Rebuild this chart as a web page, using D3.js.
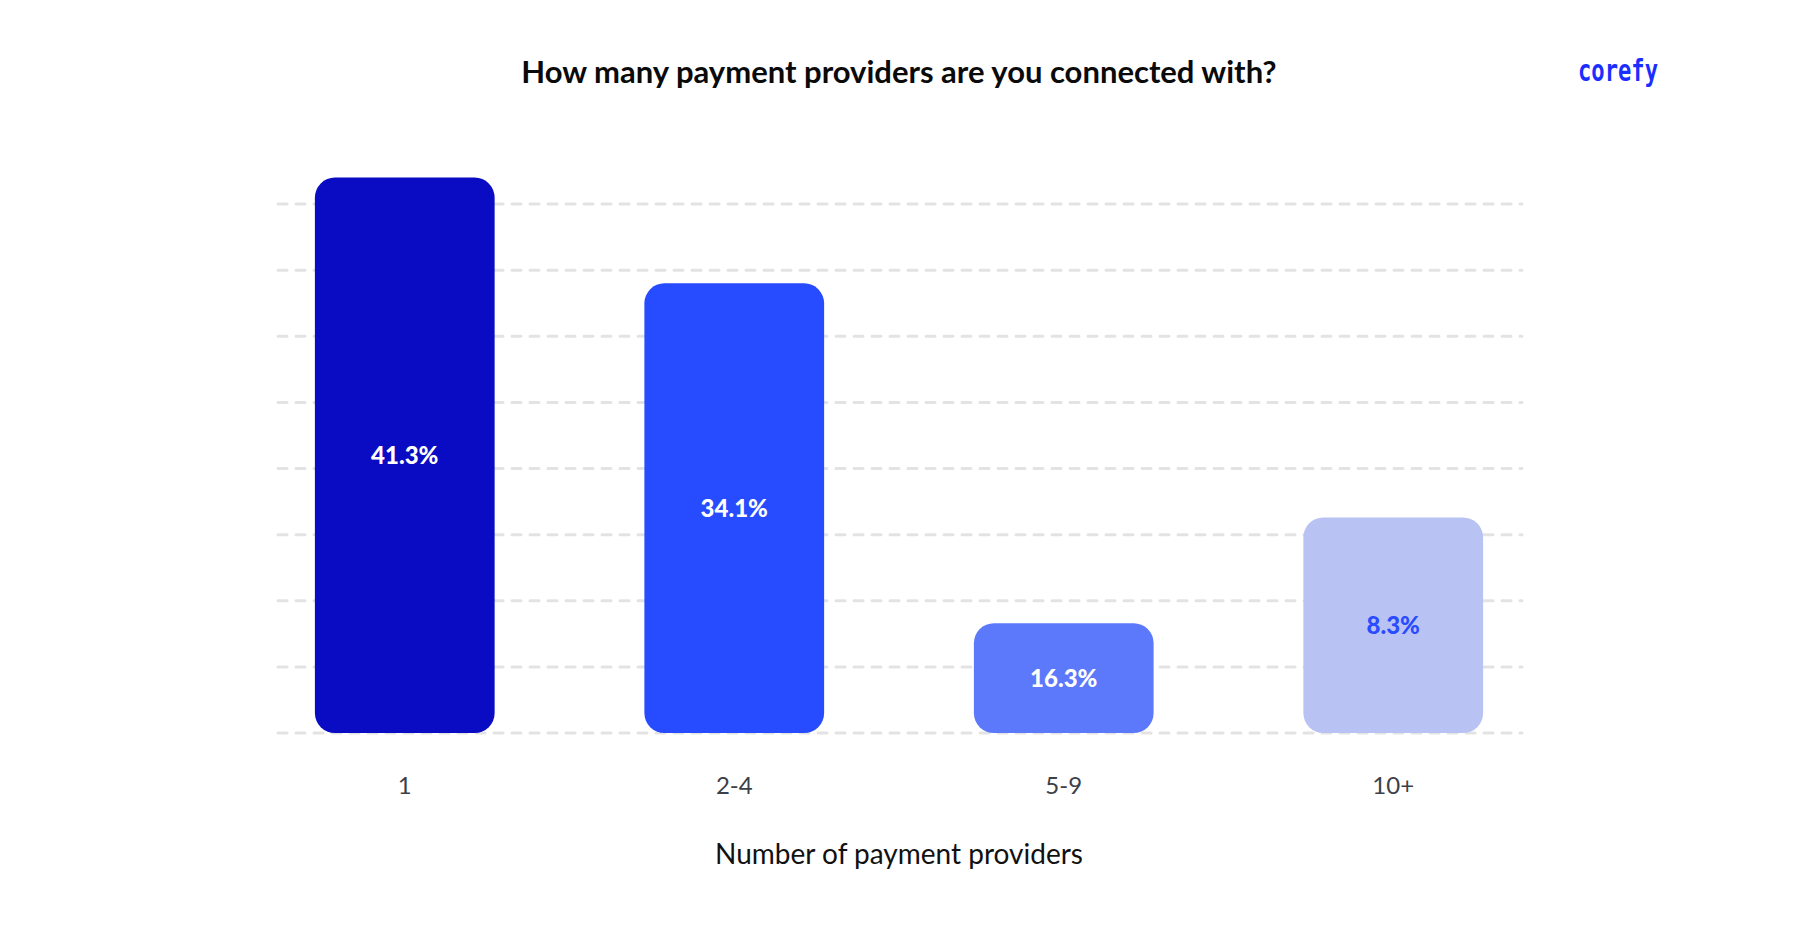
<!DOCTYPE html>
<html>
<head>
<meta charset="utf-8">
<script src="https://cdn.jsdelivr.net/npm/d3@7"></script>
<style>
  html, body { margin: 0; padding: 0; background: #ffffff; }
  svg { display: block; }
</style>
</head>
<body>
<svg id="chart" width="1800" height="942"></svg>
<script>
// ---- data ----
const categories = ["1", "2-4", "5-9", "10+"];
// bar heights as drawn in the picture (in %)
const barHeights = [42.0, 34.0, 8.3, 16.3];
// value labels as printed on the bars
const valueLabels = ["41.3%", "34.1%", "16.3%", "8.3%"];
const gridTicks = [0, 5, 10, 15, 20, 25, 30, 35, 40];
const barColors = ["#0a0cc4", "#274bff", "#5c79fb", "#b8c3f4"];
const labelColors = ["#ffffff", "#ffffff", "#ffffff", "#2a4bff"];
const titleText = "How many payment providers are you connected with?";
const xAxisTitle = "Number of payment providers";

// ---- layout ----
const svg = d3.select("#chart");
const W = 1800, H = 942;
svg.append("rect").attr("width", W).attr("height", H).attr("fill", "#fff");

const gridX0 = 278, gridX1 = 1522;
const y = d3.scaleLinear().domain([0, 40]).range([733, 204]);
const x = d3.scaleBand().domain(categories).range([240, 1558])
  .paddingInner(0.4545).paddingOuter(0.2273);

// gridlines
svg.append("g").selectAll("line").data(gridTicks).join("line")
  .attr("x1", gridX0).attr("x2", gridX1)
  .attr("y1", d => y(d)).attr("y2", d => y(d))
  .attr("stroke", "#e3e3e3").attr("stroke-width", 3)
  .attr("stroke-linecap", "round")
  .attr("stroke-dasharray", "9 9");

// bars
const bars = categories.map((c, i) => ({ c, h: barHeights[i], label: valueLabels[i], color: barColors[i], lc: labelColors[i] }));
svg.append("g").selectAll("rect").data(bars).join("rect")
  .attr("x", d => x(d.c))
  .attr("width", x.bandwidth())
  .attr("y", d => y(d.h))
  .attr("height", d => y(0) - y(d.h))
  .attr("rx", 20).attr("ry", 20)
  .attr("fill", d => d.color);

// value labels
svg.append("g").selectAll("text").data(bars).join("text")
  .attr("x", d => x(d.c) + x.bandwidth() / 2)
  .attr("y", d => (y(d.h) + y(0)) / 2)
  .attr("dy", "0.36em")
  .attr("text-anchor", "middle")
  .attr("font-family", "Lato, sans-serif")
  .attr("font-weight", 900)
  .attr("font-size", 24)
  .attr("fill", d => d.lc)
  .text(d => d.label);

// x axis labels
const xAxis = d3.axisBottom(x).tickSize(0).tickPadding(0);
const gx = svg.append("g").attr("transform", "translate(0,777)").call(xAxis);
gx.select(".domain").remove();
gx.selectAll("text")
  .attr("font-family", "Lato, sans-serif")
  .attr("font-size", 24)
  .attr("fill", "#3c4048")
  .attr("dy", "0.71em")
  .attr("y", 0);

// axis title
svg.append("text")
  .attr("x", 899).attr("y", 864)
  .attr("text-anchor", "middle")
  .attr("font-family", "Lato, sans-serif")
  .attr("font-size", 28)
  .attr("fill", "#111")
  .text(xAxisTitle);

// title
svg.append("text")
  .attr("x", 899).attr("y", 83)
  .attr("text-anchor", "middle")
  .attr("font-family", "Lato, sans-serif")
  .attr("font-weight", 700)
  .attr("font-size", 31)
  .attr("fill", "#0a0a0a")
  .text(titleText);

// logo
svg.append("text")
  .attr("x", 1578).attr("y", 81)
  .attr("font-family", "DejaVu Sans Mono, monospace")
  .attr("font-weight", 700)
  .attr("font-size", 31)
  .attr("textLength", 80)
  .attr("lengthAdjust", "spacingAndGlyphs")
  .attr("fill", "#1a2fff")
  .text("corefy");
</script>
</body>
</html>
